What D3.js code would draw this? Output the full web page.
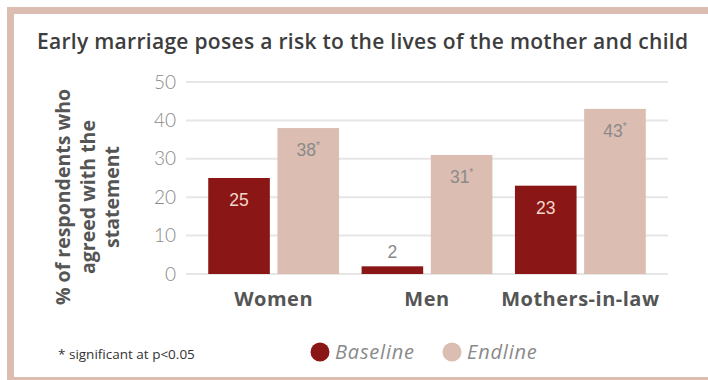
<!DOCTYPE html>
<html>
<head>
<meta charset="utf-8">
<script src="https://cdn.jsdelivr.net/npm/d3@7"></script>
<style>
  html, body { margin: 0; padding: 0; background: #ffffff; }
  svg { display: block; }
</style>
</head>
<body>
<svg id="chart" width="708" height="380"></svg>
<script>
// Survey groups and shares (%) agreeing that early marriage is risky
const categories = ["Women", "Men", "Mothers-in-law"];
const seriesNames = ["Baseline", "Endline"];
const baseline = [25, 2, 23];
const endline = [38, 31, 43];
const significant = [true, true, true]; // endline change significant at p<0.05
const yTicks = [0, 10, 20, 30, 40, 50];

const titleText = "Early marriage poses a risk to the lives of the mother and child";
const yTitleLines = ["% of respondents who", "agreed with the", "statement"];
const footnote = "* significant at p<0.05";

const colors = { Baseline: "#8a1616", Endline: "#dbbdb1" };
const frameColor = "#dcbdb1";
const sans = "'Open Sans', 'DejaVu Sans', sans-serif";

const svg = d3.select("#chart");
const W = 708, H = 380;

// framing band around the panel
svg.append("rect").attr("x", 7).attr("y", 7).attr("width", W - 7).attr("height", H - 7).attr("fill", frameColor);
svg.append("rect").attr("x", 14).attr("y", 14).attr("width", W - 14).attr("height", H - 3 - 14).attr("fill", "#ffffff");

// title
svg.append("text")
  .attr("x", 37).attr("y", 49)
  .attr("font-family", sans)
  .attr("font-weight", 600)
  .attr("font-size", 21)
  .attr("textLength", 651)
  .attr("lengthAdjust", "spacing")
  .attr("fill", "#3d3d3d")
  .text(titleText);

const plot = { left: 186, right: 668, top: 82, bottom: 274 };

const y = d3.scaleLinear().domain([0, 50]).range([plot.bottom, plot.top]);
const x0 = d3.scaleBand().domain(categories).range([plot.left, plot.right])
  .paddingInner(0.147).paddingOuter(0.145);
const x1 = d3.scaleBand().domain(seriesNames).range([0, x0.bandwidth()]).paddingInner(0.11);

// gridlines
svg.append("g").selectAll("line").data(yTicks).join("line")
  .attr("x1", plot.left).attr("x2", plot.right)
  .attr("y1", d => y(d)).attr("y2", d => y(d))
  .attr("stroke", "#e6e6e6").attr("stroke-width", 2);

// y axis tick labels
const yAxis = d3.axisLeft(y).tickValues(yTicks).tickSize(0).tickPadding(0);
const yg = svg.append("g").attr("transform", `translate(${plot.left - 10},0)`).call(yAxis);
yg.select(".domain").remove();
yg.selectAll("text")
  .attr("font-family", "Lato, 'Open Sans', sans-serif")
  .attr("font-weight", 300)
  .attr("font-size", 19)
  .attr("fill", "#8a8a8a");

// y axis title (rotated, three lines)
const yTitle = svg.append("text")
  .attr("transform", "translate(0,197) rotate(-90)")
  .attr("text-anchor", "middle")
  .attr("font-family", sans)
  .attr("font-weight", 700)
  .attr("font-size", 19.5)
  .attr("fill", "#555555");
yTitleLines.forEach((t, i) => {
  yTitle.append("tspan").attr("x", 0).attr("y", 70 + i * 24.5).text(t);
});

// bars
const rows = categories.map((c, i) => ({
  cat: c,
  vals: [
    { s: "Baseline", v: baseline[i], sig: false },
    { s: "Endline", v: endline[i], sig: significant[i] }
  ]
}));

const groups = svg.append("g").selectAll("g").data(rows).join("g")
  .attr("transform", d => `translate(${x0(d.cat)},0)`);

groups.selectAll("rect").data(d => d.vals).join("rect")
  .attr("x", d => x1(d.s))
  .attr("y", d => y(d.v))
  .attr("width", x1.bandwidth())
  .attr("height", d => y(0) - y(d.v))
  .attr("fill", d => colors[d.s]);

// value labels: inside the bar top when tall enough, above otherwise
const labels = groups.selectAll("text.val").data(d => d.vals).join("text")
  .attr("class", "val")
  .attr("text-anchor", "middle")
  .attr("font-family", "'Liberation Sans', Arial, sans-serif")
  .attr("font-size", 17.5)
  .attr("x", d => x1(d.s) + x1.bandwidth() / 2)
  .attr("y", d => (y(0) - y(d.v) > 30) ? y(d.v) + 28 : y(d.v) - 8)
  .attr("fill", d => (d.s === "Baseline" && y(0) - y(d.v) > 30) ? "#f3d6cc" : "#8a8a8a");
labels.append("tspan").text(d => d.v);
labels.filter(d => d.sig).append("tspan")
  .attr("dy", -7).attr("font-size", 10).text("*");

// category labels
svg.append("g").selectAll("text").data(categories).join("text")
  .attr("x", d => x0(d) + x0.bandwidth() / 2)
  .attr("y", 306)
  .attr("text-anchor", "middle")
  .attr("font-family", sans)
  .attr("font-weight", 700)
  .attr("font-size", 20)
  .attr("letter-spacing", 0.5)
  .attr("fill", "#555555")
  .text(d => d);

// footnote
svg.append("text")
  .attr("x", 58).attr("y", 359)
  .attr("font-family", sans)
  .attr("font-size", 13.5)
  .attr("fill", "#333333")
  .text(footnote);

// legend
const legend = svg.append("g").attr("transform", "translate(320,352)");
const legX = [0, 132];
seriesNames.forEach((s, i) => {
  const g = legend.append("g").attr("transform", `translate(${legX[i]},0)`);
  g.append("circle").attr("r", 9.5).attr("fill", colors[s]);
  g.append("text")
    .attr("x", 15).attr("y", 7)
    .attr("font-family", sans)
    .attr("font-style", "italic")
    .attr("font-size", 20)
    .attr("letter-spacing", 0.8)
    .attr("fill", "#8a8a8a")
    .text(s);
});
</script>
</body>
</html>
